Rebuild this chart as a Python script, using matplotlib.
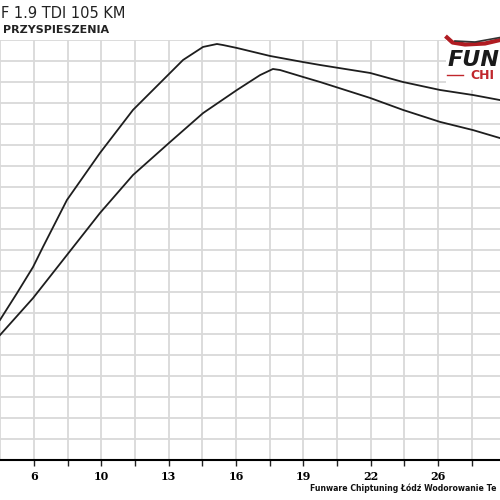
import matplotlib
matplotlib.use("Agg")
import matplotlib.pyplot as plt
from matplotlib.patches import Rectangle
import numpy as np

# acceleration curves (x: time-ish axis, y: grid units)
x_upper = [4.78, 5.59, 6.35, 6.82, 7.96, 9.53, 11.10, 12.86, 13.48, 14.43, 15.09,
           15.38, 16.04, 17.61, 19.18, 19.99, 22.37, 23.93, 25.69, 27.26, 28.54]
y_upper = [6.67, 7.95, 9.19, 10.14, 12.38, 14.62, 16.67, 18.43, 19.05, 19.67, 19.81,
           19.76, 19.62, 19.24, 18.95, 18.81, 18.43, 18.00, 17.62, 17.38, 17.14]

x_lower = [4.78, 6.35, 7.96, 9.53, 11.10, 12.86, 14.43, 16.04, 17.14, 17.75, 18.09,
           19.18, 19.99, 22.37, 23.93, 25.69, 27.26, 28.54]
y_lower = [5.95, 7.71, 9.76, 11.76, 13.57, 15.14, 16.52, 17.62, 18.33, 18.62, 18.57,
           18.24, 18.00, 17.24, 16.67, 16.10, 15.71, 15.33]

tick_pos = [6.4, 9.6, 12.8, 16.0, 19.2, 22.4, 25.6]
tick_labels = ["6", "10", "13", "16", "19", "22", "26"]

title_1 = "F 1.9 TDI 105 KM"
title_2 = "PRZYSPIESZENIA"
footer = "Funware Chiptuning Łódź Wodorowanie Te"

fig = plt.figure(figsize=(5, 5), dpi=100)
ax = fig.add_axes([0, 0.08, 1, 0.84])
ax.set_xlim(4.78, 28.54)
ax.set_ylim(0, 20)

# grid
for gx in np.arange(4.8, 29, 1.6):
    ax.axvline(gx, color="#d9d9d9", lw=1.3, zorder=0)
for gy in range(0, 21):
    ax.axhline(gy, color="#d9d9d9", lw=1.3, zorder=0)

ax.plot(x_upper, y_upper, color="#1e1e1e", lw=1.3, solid_joinstyle="round")
ax.plot(x_lower, y_lower, color="#1e1e1e", lw=1.3, solid_joinstyle="round")

for s in ["left", "right", "top"]:
    ax.spines[s].set_visible(False)
ax.spines["bottom"].set_linewidth(1.5)
ax.spines["bottom"].set_zorder(5)
ax.set_yticks([])
ax.set_xticks(tick_pos)
ax.set_xticklabels(tick_labels, fontfamily="DejaVu Serif", fontweight="bold", fontsize=8)
ax.set_xticks(np.arange(8.0, 29, 3.2), minor=True)
ax.tick_params(axis="x", which="both", direction="out", length=4, width=1, color="#222", pad=4)

# title
fig.text(0.002, 0.972, title_1, fontsize=10.5, color="#222", ha="left", va="center")
fig.text(0.006, 0.94, title_2, fontsize=8, fontweight="bold", color="#222",
         ha="left", va="center")

# footer
fig.text(0.62, 0.024, footer, fontsize=5.6, fontweight="bold", color="#111", ha="left", va="center")

# logo (cut off at the right edge in the reference)
fig.patches.append(Rectangle((0.892, 0.82), 0.11, 0.11, transform=fig.transFigure,
                             facecolor="white", edgecolor="none", zorder=3))
fig.add_artist(plt.Line2D([0.894, 0.905, 0.93, 0.97, 1.0], [0.925, 0.915, 0.911, 0.913, 0.92],
                          transform=fig.transFigure, color="#b01c22", lw=3, zorder=4))
fig.add_artist(plt.Line2D([0.91, 0.95, 1.0], [0.918, 0.916, 0.925],
                          transform=fig.transFigure, color="#333", lw=1.2, zorder=4))
fig.text(0.896, 0.88, "FUN", fontsize=16, fontweight="bold", style="italic",
         color="#1a1a1a", ha="left", va="center", zorder=5)
fig.add_artist(plt.Line2D([0.894, 0.926], [0.85, 0.85], transform=fig.transFigure,
                          color="#c0262c", lw=1, zorder=4))
fig.text(0.94, 0.849, "CHI", fontsize=9, fontweight="bold",
         color="#c0262c", ha="left", va="center", zorder=5)

fig.savefig("out.png", dpi=100)
